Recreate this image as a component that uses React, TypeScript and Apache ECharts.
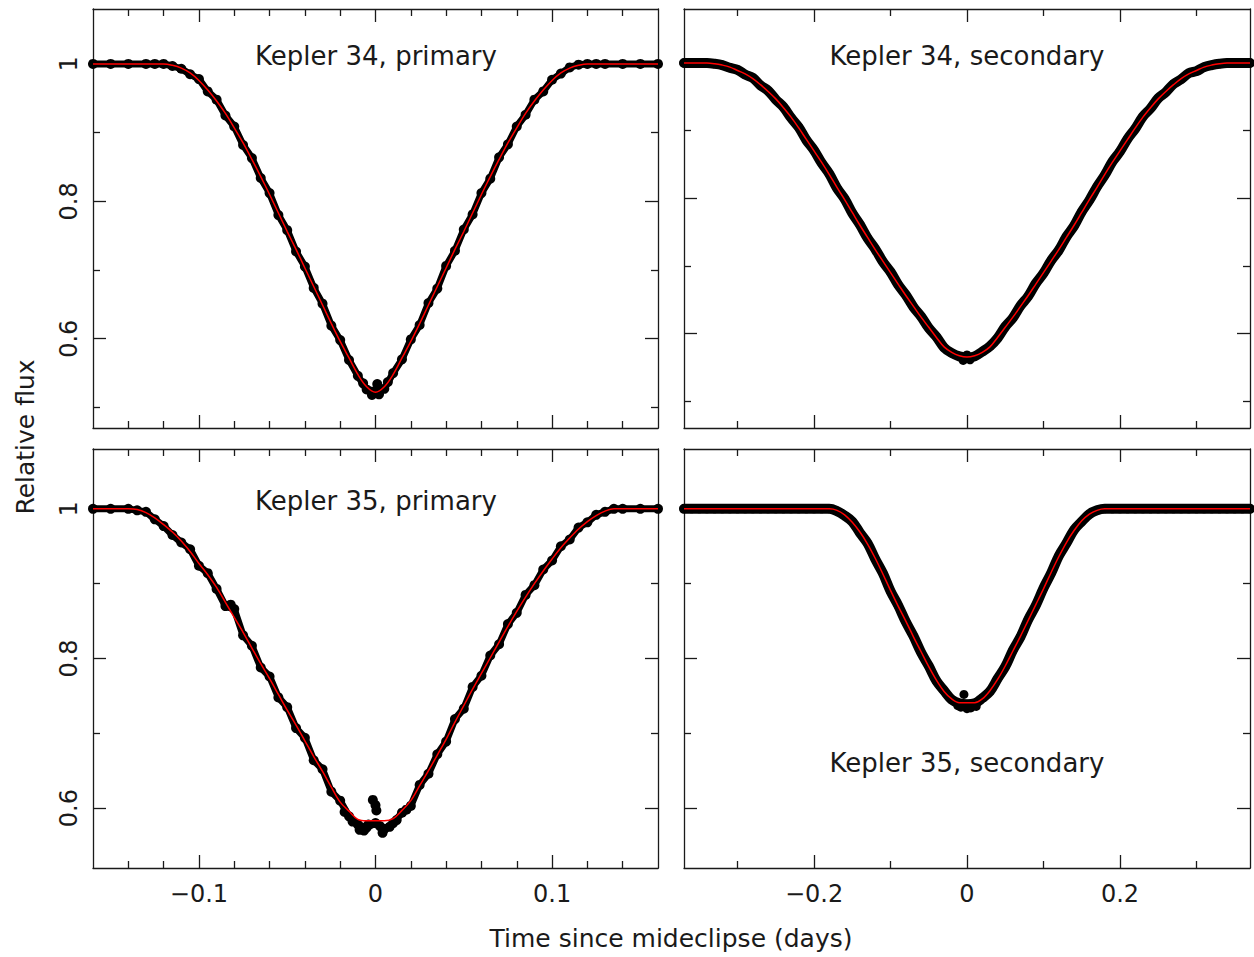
import React, { useEffect, useRef } from "react";
import * as echarts from "echarts";

// ---------- tick values ----------
const primaryMajorX = [-0.1, 0, 0.1];
const primaryMinorX = [-0.14, -0.12, -0.08, -0.06, -0.04, -0.02, 0.02, 0.04, 0.06, 0.08, 0.12, 0.14];
const secondaryMajorX = [-0.2, 0, 0.2];
const secondaryMinorX = [-0.3, -0.1, 0.1, 0.3];
const majorY = [0.6, 0.8, 1];
const minorYTop = [0.5, 0.7, 0.9];
const minorYBottom = [0.7, 0.9];

// ---------- Kepler 34, primary ----------
const k34pTime = [-0.16, -0.15, -0.14, -0.13, -0.125, -0.12, -0.115, -0.11, -0.105, -0.1, -0.095, -0.09, -0.085, -0.08, -0.075, -0.07, -0.065, -0.06, -0.055, -0.05, -0.045, -0.04, -0.035, -0.03, -0.025, -0.02, -0.015, -0.01, -0.005, 0, 0.005, 0.01, 0.015, 0.02, 0.025, 0.03, 0.035, 0.04, 0.045, 0.05, 0.055, 0.06, 0.065, 0.07, 0.075, 0.08, 0.085, 0.09, 0.095, 0.1, 0.105, 0.11, 0.115, 0.12, 0.125, 0.13, 0.14, 0.15, 0.16];
const k34pModel = [1, 1, 1, 1, 1, 1.0, 0.998, 0.994, 0.987, 0.976, 0.962, 0.946, 0.928, 0.907, 0.885, 0.861, 0.836, 0.81, 0.783, 0.756, 0.73, 0.703, 0.676, 0.649, 0.622, 0.596, 0.572, 0.548, 0.53, 0.522, 0.53, 0.548, 0.572, 0.596, 0.622, 0.649, 0.676, 0.703, 0.73, 0.756, 0.783, 0.81, 0.836, 0.861, 0.885, 0.907, 0.928, 0.946, 0.962, 0.976, 0.987, 0.994, 0.998, 1.0, 1, 1, 1, 1, 1];
const k34pFlux = [1.0, 1.0, 1.0, 1.0, 1.0, 1.0, 0.997, 0.993, 0.985, 0.978, 0.96, 0.948, 0.925, 0.909, 0.882, 0.863, 0.834, 0.812, 0.78, 0.758, 0.727, 0.705, 0.674, 0.651, 0.619, 0.598, 0.569, 0.546, 0.526, 0.524, 0.527, 0.55, 0.57, 0.599, 0.62, 0.652, 0.673, 0.706, 0.728, 0.759, 0.781, 0.812, 0.833, 0.864, 0.883, 0.909, 0.926, 0.948, 0.96, 0.977, 0.986, 0.995, 0.999, 1.0, 1.0, 1.0, 1.0, 1.0, 1.0];
const k34pExtra = [[-0.002, 0.518], [0.002, 0.519], [0.001, 0.534], [-0.007, 0.535], [0.007, 0.537]];

// ---------- secondary eclipses share a time grid ----------
const secondaryTime = [-0.37, -0.36, -0.35, -0.34, -0.33, -0.32, -0.31, -0.3, -0.29, -0.28, -0.27, -0.26, -0.25, -0.24, -0.23, -0.22, -0.21, -0.2, -0.19, -0.18, -0.17, -0.16, -0.15, -0.14, -0.13, -0.12, -0.11, -0.1, -0.09, -0.08, -0.07, -0.06, -0.05, -0.04, -0.03, -0.02, -0.01, 0, 0.01, 0.02, 0.03, 0.04, 0.05, 0.06, 0.07, 0.08, 0.09, 0.1, 0.11, 0.12, 0.13, 0.14, 0.15, 0.16, 0.17, 0.18, 0.19, 0.2, 0.21, 0.22, 0.23, 0.24, 0.25, 0.26, 0.27, 0.28, 0.29, 0.3, 0.31, 0.32, 0.33, 0.34, 0.35, 0.36, 0.37];

// ---------- Kepler 34, secondary ----------
const k34sModel = [1.0, 1.0, 1.0, 1.0, 0.999, 0.997, 0.994, 0.989, 0.984, 0.977, 0.968, 0.958, 0.947, 0.934, 0.92, 0.904, 0.887, 0.87, 0.853, 0.835, 0.816, 0.798, 0.779, 0.76, 0.742, 0.724, 0.707, 0.69, 0.673, 0.656, 0.64, 0.624, 0.609, 0.594, 0.58, 0.572, 0.567, 0.565, 0.567, 0.572, 0.58, 0.594, 0.609, 0.624, 0.64, 0.656, 0.673, 0.69, 0.707, 0.724, 0.742, 0.76, 0.779, 0.798, 0.816, 0.835, 0.853, 0.87, 0.887, 0.904, 0.92, 0.934, 0.947, 0.958, 0.968, 0.977, 0.984, 0.989, 0.994, 0.997, 0.999, 1.0, 1.0, 1.0, 1.0];
const k34sFlux = [1.0, 1.0, 1.0, 1.0, 0.999, 0.997, 0.993, 0.99, 0.983, 0.978, 0.967, 0.959, 0.946, 0.935, 0.919, 0.905, 0.886, 0.871, 0.852, 0.836, 0.815, 0.799, 0.778, 0.761, 0.741, 0.725, 0.706, 0.691, 0.672, 0.657, 0.639, 0.625, 0.608, 0.595, 0.579, 0.571, 0.566, 0.564, 0.566, 0.573, 0.581, 0.593, 0.61, 0.623, 0.641, 0.655, 0.674, 0.689, 0.708, 0.723, 0.743, 0.759, 0.78, 0.797, 0.817, 0.834, 0.854, 0.869, 0.888, 0.903, 0.921, 0.933, 0.948, 0.957, 0.969, 0.976, 0.985, 0.988, 0.994, 0.997, 0.999, 1.0, 1.0, 1.0, 1.0];
const k34sExtra = [[-0.005, 0.56], [0.004, 0.561], [0.0, 0.568]];

// ---------- Kepler 35, primary ----------
const k35pTime = [-0.16, -0.15, -0.14, -0.135, -0.13, -0.125, -0.12, -0.115, -0.11, -0.105, -0.1, -0.095, -0.09, -0.085, -0.08, -0.075, -0.07, -0.065, -0.06, -0.055, -0.05, -0.045, -0.04, -0.035, -0.03, -0.025, -0.02, -0.015, -0.01, -0.005, 0, 0.005, 0.01, 0.015, 0.02, 0.025, 0.03, 0.035, 0.04, 0.045, 0.05, 0.055, 0.06, 0.065, 0.07, 0.075, 0.08, 0.085, 0.09, 0.095, 0.1, 0.105, 0.11, 0.115, 0.12, 0.125, 0.13, 0.135, 0.14, 0.15, 0.16];
const k35pModel = [1.0, 1.0, 1.0, 0.999, 0.995, 0.988, 0.979, 0.969, 0.957, 0.943, 0.927, 0.912, 0.895, 0.875, 0.855, 0.835, 0.814, 0.793, 0.773, 0.752, 0.731, 0.711, 0.69, 0.669, 0.649, 0.628, 0.608, 0.596, 0.585, 0.583, 0.583, 0.583, 0.586, 0.597, 0.61, 0.63, 0.65, 0.671, 0.692, 0.715, 0.737, 0.759, 0.78, 0.801, 0.822, 0.843, 0.863, 0.882, 0.9, 0.917, 0.933, 0.948, 0.961, 0.973, 0.983, 0.991, 0.997, 1.0, 1.0, 1.0, 1.0];
const k35pFlux = [1.0, 1.0, 1.0, 0.998, 0.996, 0.986, 0.977, 0.965, 0.955, 0.946, 0.924, 0.914, 0.893, 0.87, 0.866, 0.831, 0.817, 0.788, 0.776, 0.748, 0.735, 0.707, 0.694, 0.664, 0.652, 0.622, 0.61, 0.589, 0.578, 0.574, 0.58, 0.572, 0.58, 0.594, 0.603, 0.631, 0.646, 0.672, 0.689, 0.719, 0.733, 0.762, 0.777, 0.804, 0.819, 0.846, 0.861, 0.885, 0.898, 0.919, 0.931, 0.95, 0.959, 0.975, 0.982, 0.992, 0.996, 1.0, 1.0, 1.0, 1.0];
const k35pExtra = [[-0.0015, 0.611], [0.0, 0.604], [0.0005, 0.597], [-0.009, 0.571], [0.004, 0.567], [-0.004, 0.578], [0.008, 0.575], [-0.082, 0.872], [-0.013, 0.582], [0.012, 0.584], [-0.0175, 0.595], [0.0175, 0.598], [-0.0065, 0.57], [0.0025, 0.576]];

// ---------- Kepler 35, secondary ----------
const k35sModel = [1.0, 1.0, 1.0, 1.0, 1.0, 1.0, 1.0, 1.0, 1.0, 1.0, 1.0, 1.0, 1.0, 1.0, 1.0, 1.0, 1.0, 1.0, 1.0, 1.0, 0.998, 0.992, 0.982, 0.969, 0.953, 0.934, 0.913, 0.891, 0.87, 0.85, 0.829, 0.809, 0.789, 0.771, 0.756, 0.746, 0.741, 0.741, 0.741, 0.746, 0.757, 0.772, 0.79, 0.81, 0.83, 0.851, 0.872, 0.893, 0.915, 0.936, 0.955, 0.971, 0.984, 0.993, 0.998, 1.0, 1.0, 1.0, 1.0, 1.0, 1.0, 1.0, 1.0, 1.0, 1.0, 1.0, 1.0, 1.0, 1.0, 1.0, 1.0, 1.0, 1.0, 1.0, 1.0];
const k35sFlux = [1.0, 1.0, 1.0, 1.0, 1.0, 1.0, 1.0, 1.0, 1.0, 1.0, 1.0, 1.0, 1.0, 1.0, 1.0, 1.0, 1.0, 1.0, 1.0, 1.0, 0.997, 0.991, 0.983, 0.968, 0.954, 0.933, 0.914, 0.89, 0.871, 0.849, 0.83, 0.808, 0.79, 0.77, 0.757, 0.745, 0.74, 0.739, 0.74, 0.747, 0.756, 0.773, 0.789, 0.811, 0.829, 0.852, 0.871, 0.894, 0.914, 0.937, 0.954, 0.972, 0.983, 0.993, 0.998, 1.0, 1.0, 1.0, 1.0, 1.0, 1.0, 1.0, 1.0, 1.0, 1.0, 1.0, 1.0, 1.0, 1.0, 1.0, 1.0, 1.0, 1.0, 1.0, 1.0];
const k35sExtra = [[-0.004, 0.752], [0.0, 0.733], [0.005, 0.734], [-0.008, 0.735], [0.012, 0.736], [-0.012, 0.737]];

const FONT = "'DejaVu Sans', 'Liberation Sans', sans-serif";
const INK = "#1a1a1a";

const fmt = (v: number) => (v < 0 ? "\u2212" + String(Math.abs(v)) : String(v));
const zip = (t: number[], f: number[]) => t.map((x, i) => [x, f[i]]);

const panels = [
  { title: "Kepler 34, primary", titleX: 376, titleY: 56, rect: { left: 93, top: 9, width: 565, height: 419 }, xr: [-0.16, 0.16], yr: [0.47, 1.08], xMajor: primaryMajorX, xMinor: primaryMinorX, yMinor: minorYTop, xLabels: false, yLabels: true, time: k34pTime, model: k34pModel, flux: k34pFlux, extra: k34pExtra, band: 7, dot: 10, bandSmooth: false },
  { title: "Kepler 34, secondary", titleX: 967, titleY: 56, rect: { left: 684, top: 9, width: 566, height: 419 }, xr: [-0.37, 0.37], yr: [0.46, 1.08], xMajor: secondaryMajorX, xMinor: secondaryMinorX, yMinor: minorYTop, xLabels: false, yLabels: false, time: secondaryTime, model: k34sModel, flux: k34sFlux, extra: k34sExtra, band: 10, dot: 9, bandSmooth: true },
  { title: "Kepler 35, primary", titleX: 376, titleY: 501, rect: { left: 93, top: 449, width: 565, height: 419 }, xr: [-0.16, 0.16], yr: [0.52, 1.08], xMajor: primaryMajorX, xMinor: primaryMinorX, yMinor: minorYBottom, xLabels: true, yLabels: true, time: k35pTime, model: k35pModel, flux: k35pFlux, extra: k35pExtra, band: 7, dot: 10, bandSmooth: false },
  { title: "Kepler 35, secondary", titleX: 967, titleY: 763, rect: { left: 684, top: 449, width: 566, height: 419 }, xr: [-0.37, 0.37], yr: [0.52, 1.08], xMajor: secondaryMajorX, xMinor: secondaryMinorX, yMinor: minorYBottom, xLabels: true, yLabels: false, time: secondaryTime, model: k35sModel, flux: k35sFlux, extra: k35sExtra, band: 10, dot: 9, bandSmooth: true },
];

function buildOption() {
  const grid: any[] = [];
  const xAxis: any[] = [];
  const yAxis: any[] = [];
  const series: any[] = [];
  const graphic: any[] = [];
  const ls = { color: INK, width: 1.3 };
  const labelStyle = { fontSize: 24, color: INK, fontFamily: FONT };

  panels.forEach((p, g) => {
    grid.push({ ...p.rect, containLabel: false, outerBoundsMode: "none" });
    const cx = { type: "value", gridIndex: g, min: p.xr[0], max: p.xr[1], splitLine: { show: false }, scale: true };
    xAxis.push(
      { ...cx, position: "bottom", axisLine: { show: true, onZero: false, lineStyle: ls }, axisTick: { show: true, inside: true, length: 13, customValues: p.xMajor, lineStyle: ls }, axisLabel: { show: p.xLabels, customValues: p.xMajor, formatter: fmt, margin: 14, ...labelStyle } },
      { ...cx, position: "bottom", axisLine: { show: false, onZero: false }, axisTick: { show: true, inside: true, length: 7, customValues: p.xMinor, lineStyle: ls }, axisLabel: { show: false } },
      { ...cx, position: "top", axisLine: { show: true, onZero: false, lineStyle: ls }, axisTick: { show: true, inside: true, length: 13, customValues: p.xMajor, lineStyle: ls }, axisLabel: { show: false } },
      { ...cx, position: "top", axisLine: { show: false, onZero: false }, axisTick: { show: true, inside: true, length: 7, customValues: p.xMinor, lineStyle: ls }, axisLabel: { show: false } }
    );
    const cy = { type: "value", gridIndex: g, min: p.yr[0], max: p.yr[1], splitLine: { show: false }, scale: true };
    yAxis.push(
      { ...cy, position: "left", axisLine: { show: true, onZero: false, lineStyle: ls }, axisTick: { show: true, inside: true, length: 13, customValues: majorY, lineStyle: ls }, axisLabel: { show: p.yLabels, customValues: majorY, formatter: fmt, rotate: 90, margin: 12, ...labelStyle } },
      { ...cy, position: "left", axisLine: { show: false, onZero: false }, axisTick: { show: true, inside: true, length: 7, customValues: p.yMinor, lineStyle: ls }, axisLabel: { show: false } },
      { ...cy, position: "right", axisLine: { show: true, onZero: false, lineStyle: ls }, axisTick: { show: true, inside: true, length: 13, customValues: majorY, lineStyle: ls }, axisLabel: { show: false } },
      { ...cy, position: "right", axisLine: { show: false, onZero: false }, axisTick: { show: true, inside: true, length: 7, customValues: p.yMinor, lineStyle: ls }, axisLabel: { show: false } }
    );
    const dots = zip(p.time, p.flux);
    series.push(
      { type: "line", xAxisIndex: 4 * g, yAxisIndex: 4 * g, data: dots, symbol: "none", silent: true, smooth: p.bandSmooth ? 0.35 : false, lineStyle: { color: "#000", width: p.band, opacity: 1, cap: "round", join: "round" }, z: 2 },
      { type: "scatter", xAxisIndex: 4 * g, yAxisIndex: 4 * g, data: [...dots, ...p.extra], symbol: "circle", symbolSize: p.dot, silent: true, itemStyle: { color: "#000", opacity: 1 }, z: 3 },
      { type: "line", xAxisIndex: 4 * g, yAxisIndex: 4 * g, data: zip(p.time, p.model), symbol: "none", silent: true, smooth: 0.35, lineStyle: { color: "#ff0000", width: 1.5, opacity: 1 }, z: 4 }
    );
    graphic.push({ type: "text", x: p.titleX, y: p.titleY, style: { text: p.title, fontSize: 26, fontFamily: FONT, fill: INK, align: "center", verticalAlign: "middle", textAlign: "center", textVerticalAlign: "middle" } });
  });

  graphic.push({ type: "text", x: 671, y: 938, style: { text: "Time since mideclipse (days)", fontSize: 25, fontFamily: FONT, fill: INK, align: "center", verticalAlign: "middle", textAlign: "center", textVerticalAlign: "middle" } });
  graphic.push({ type: "text", x: 25, y: 437, rotation: Math.PI / 2, style: { text: "Relative flux", fontSize: 25, fontFamily: FONT, fill: INK, align: "center", verticalAlign: "middle", textAlign: "center", textVerticalAlign: "middle" } });

  return { animation: false, backgroundColor: "#ffffff", grid, xAxis, yAxis, series, graphic };
}

export default function App() {
  const ref = useRef<HTMLDivElement>(null);
  useEffect(() => {
    if (!ref.current) return;
    const chart = echarts.init(ref.current, undefined, { renderer: "svg" });
    chart.setOption(buildOption() as any);
    return () => chart.dispose();
  }, []);
  return <div ref={ref} style={{ position: "absolute", left: 0, top: 0, width: 1254, height: 957, background: "#fff" }} />;
}
